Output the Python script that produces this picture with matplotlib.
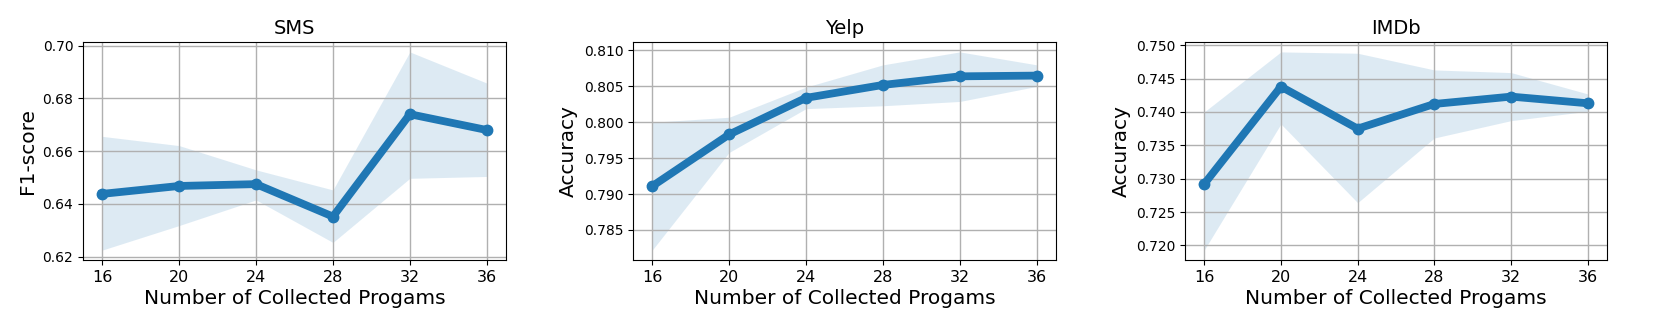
import matplotlib
matplotlib.use("Agg")
import matplotlib.pyplot as plt
from matplotlib.ticker import FormatStrFormatter, MultipleLocator

# x values: number of collected programs
programs = [16, 20, 24, 28, 32, 36]

# SMS (F1-score)
sms_mean = [0.6438, 0.6468, 0.6475, 0.6352, 0.6740, 0.6680]
sms_upper = [0.6656, 0.6621, 0.6529, 0.6453, 0.6976, 0.6858]
sms_lower = [0.6225, 0.6318, 0.6415, 0.6254, 0.6497, 0.6504]

# Yelp (Accuracy)
yelp_mean = [0.7911, 0.7983, 0.8034, 0.8052, 0.8064, 0.8065]
yelp_upper = [0.8000, 0.8007, 0.8049, 0.8080, 0.8098, 0.8080]
yelp_lower = [0.7822, 0.7958, 0.8019, 0.8023, 0.8029, 0.8050]

# IMDb (Accuracy)
imdb_mean = [0.7292, 0.7438, 0.7375, 0.7412, 0.7423, 0.7413]
imdb_upper = [0.7400, 0.7490, 0.7488, 0.7463, 0.7459, 0.7427]
imdb_lower = [0.7193, 0.7382, 0.7264, 0.7361, 0.7387, 0.7401]

titles = ['SMS', 'Yelp', 'IMDb']
ylabels = ['F1-score', 'Accuracy', 'Accuracy']
means = [sms_mean, yelp_mean, imdb_mean]
uppers = [sms_upper, yelp_upper, imdb_upper]
lowers = [sms_lower, yelp_lower, imdb_lower]
yfmt = ['%.2f', '%.3f', '%.3f']
ystep = [0.02, 0.005, 0.005]

W, H = 1661, 332
fig = plt.figure(figsize=(W / 100, H / 100), dpi=100)

# axes boxes in pixels: left, right
boxes = [(83, 506), (633, 1056), (1185, 1607)]
top, bottom = 42, 260

for i in range(3):
    l, r = boxes[i]
    ax = fig.add_axes([l / W, 1 - bottom / H, (r - l) / W, (bottom - top) / H])
    ax.fill_between(programs, lowers[i], uppers[i], color='#1f77b4', alpha=0.15, linewidth=0)
    ax.plot(programs, means[i], color='#1f77b4', linewidth=5.6, marker='o', markersize=7.5)
    ax.set_xticks(programs)
    ax.grid(True, linewidth=1.0, color='#b0b0b0')
    ax.set_title(titles[i], fontsize=14)
    ax.set_xlabel('Number of Collected Progams', fontsize=14.5, labelpad=3)
    ax.set_ylabel(ylabels[i], fontsize=14.5)
    ax.tick_params(axis='x', labelsize=11.5)
    ax.tick_params(axis='y', labelsize=10)
    ax.yaxis.set_major_locator(MultipleLocator(ystep[i]))
    ax.yaxis.set_major_formatter(FormatStrFormatter(yfmt[i]))

fig.savefig('out.png', dpi=100)
